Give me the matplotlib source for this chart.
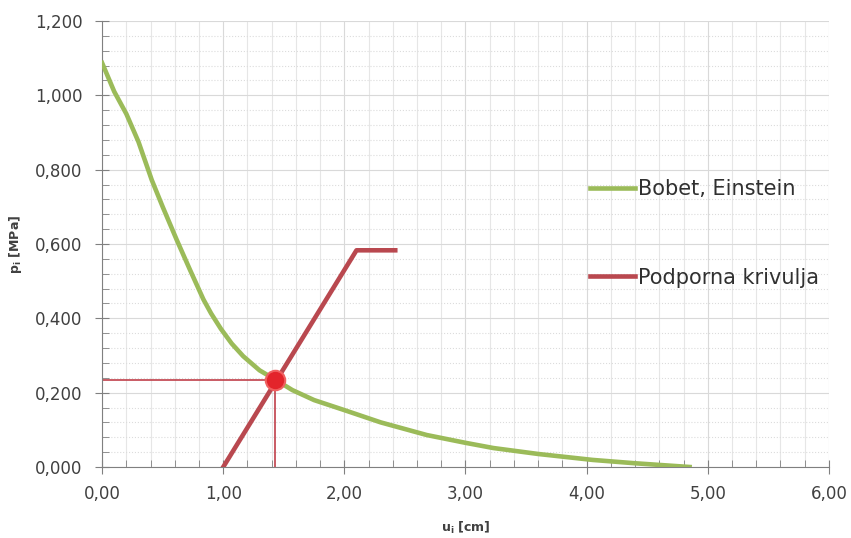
import matplotlib.pyplot as plt
from matplotlib.ticker import MultipleLocator, FuncFormatter

# Bobet, Einstein krivulja
u_be = [0.00, 0.10, 0.20, 0.30, 0.41, 0.50, 0.616, 0.726, 0.836, 0.90, 0.98, 1.07, 1.165, 1.30,
        1.43, 1.57, 1.75, 2.00, 2.30, 2.68, 3.00, 3.23, 3.60, 4.05, 4.40, 4.85]
p_be = [1.087, 1.010, 0.950, 0.875, 0.772, 0.700, 0.611, 0.530, 0.451, 0.413, 0.372, 0.332, 0.298,
        0.260, 0.235, 0.207, 0.180, 0.153, 0.120, 0.086, 0.065, 0.051, 0.035, 0.019, 0.010, 0.000]

# podporna krivulja
u_pod = [1.00, 2.10, 2.42]
p_pod = [0.000, 0.583, 0.583]

# presecisce
u_x = 1.43
p_x = 0.233

green = '#9bbb59'
red = '#b9484f'

fig = plt.figure(figsize=(8.51, 5.38), dpi=100)
ax = fig.add_axes([0.120, 0.132, 0.854, 0.829])

ax.plot(u_be, p_be, color=green, linewidth=3.3, label='Bobet, Einstein', zorder=3,
        solid_joinstyle='round')
ax.plot(u_pod, p_pod, color=red, linewidth=3.3, label='Podporna krivulja', zorder=3)

# pomozne crte do presecisca
ax.plot([0, u_x], [p_x, p_x], color='#c0404a', linewidth=1.2, zorder=2)
ax.plot([u_x, u_x], [0, p_x], color='#c0404a', linewidth=1.2, zorder=2)
ax.plot([u_x], [p_x], 'o', markersize=14, markerfacecolor='#e3242b',
        markeredgecolor='#f06060', markeredgewidth=1.5, zorder=4)

ax.set_xlim(0, 6)
ax.set_ylim(0, 1.2)
ax.xaxis.set_major_locator(MultipleLocator(1))
ax.xaxis.set_minor_locator(MultipleLocator(0.2))
ax.yaxis.set_major_locator(MultipleLocator(0.2))
ax.yaxis.set_minor_locator(MultipleLocator(0.04))
ax.xaxis.set_major_formatter(FuncFormatter(lambda v, p: f'{v:.2f}'.replace('.', ',')))
ax.yaxis.set_major_formatter(FuncFormatter(lambda v, p: f'{v:.3f}'.replace('.', ',')))

ax.grid(which='major', color='#d9d9d9', linewidth=0.8)
ax.grid(which='minor', axis='x', color='#e6e6e6', linewidth=0.8)
ax.grid(which='minor', axis='y', color='#dcdcdc', linewidth=0.8, linestyle=':')
ax.set_axisbelow(True)

for s in ['top', 'right']:
    ax.spines[s].set_visible(False)
for s in ['left', 'bottom']:
    ax.spines[s].set_color('#808080')

ax.tick_params(which='major', direction='inout', length=10, color='#808080',
               labelsize=12, labelcolor='#404040')
ax.tick_params(which='minor', direction='in', length=5, color='#808080')
ax.tick_params(axis='x', pad=8)
ax.tick_params(axis='y', pad=9)

ax.set_xlabel('u$_\\mathregular{i}$ [cm]', fontsize=9, fontweight='bold', color='#404040', labelpad=12)
ax.set_ylabel('p$_\\mathregular{i}$ [MPa]', fontsize=9, fontweight='bold', color='#404040', labelpad=8)

leg = ax.legend(loc='upper left', bbox_to_anchor=(0.645, 0.688), frameon=False,
                fontsize=15, handlelength=2.16, handletextpad=0.15, labelspacing=3.3)
for t in leg.get_texts():
    t.set_color('#303030')

plt.savefig('out.png', dpi=100)
